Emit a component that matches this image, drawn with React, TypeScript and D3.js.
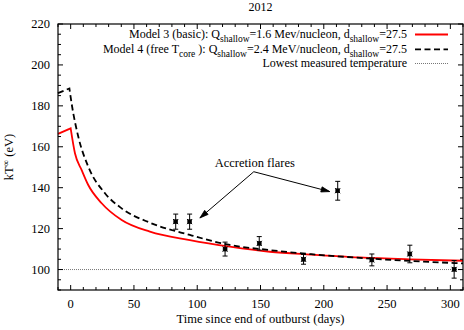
import React from 'react';
import * as d3 from 'd3';

// Model 3 (basic) cooling curve, red solid
const model3Days = [-10, 0, 3.4, 8.7, 13.9, 24.5, 40.3, 62.6, 94.2, 125.8, 157.4, 190, 228.4, 268, 310];
const model3Temp = [166.3, 169, 156.8, 148.6, 141.3, 132.4, 124.2, 118.5, 114.4, 111.2, 108.7, 107.3, 105.9, 105.0, 104.3];

// Model 4 (free T core) cooling curve, black dashed
const model4Days = [-10, -1, 0.8, 6, 13.9, 27.1, 40.3, 62.6, 94.2, 125.8, 157.4, 190, 228.4, 268, 310];
const model4Temp = [186.2, 188.5, 181, 165, 150.3, 137.3, 129.9, 122.9, 116.9, 112, 109.5, 107.5, 105.7, 104.2, 103.0];

// observations
const obsDays = [83, 94, 122, 149, 184, 211, 238, 268, 303];
const obsTemp = [123.4, 123.4, 110, 112.8, 105, 138.5, 104.7, 107.6, 100.1];
const obsErr = [3.7, 3.7, 3.4, 3.3, 2.4, 4.6, 2.9, 4.3, 4.3];

const lowestTemp = 100;

const xTicks = [0, 50, 100, 150, 200, 250, 300];
const yTicks = [100, 120, 140, 160, 180, 200, 220];

// legend texts, split in [text, isSubscript]
const legend3: [string, boolean][] = [['Model 3 (basic): Q', false], ['shallow', true], ['=1.6 Mev/nucleon, d', false], ['shallow', true], ['=27.5', false]];
const legend4: [string, boolean][] = [['Model 4 (free T', false], ['core', true], ['): Q', false], ['shallow', true], ['=2.4 MeV/nucleon, d', false], ['shallow', true], ['=27.5', false]];
const legendLow: [string, boolean][] = [['Lowest measured temperature', false]];

// annotation: label position and arrow targets (data coords)
const flareLabel = {day: 145.5, temp: 150.1, text: 'Accretion flares'};
const flareFrom = {day: 144.7, temp: 147.8};
const flareTargets = [{day: 102.1, temp: 125.2}, {day: 204.7, temp: 138.1}];

const W = 464, H = 330;
const font = '"Liberation Serif", "Times New Roman", serif';

export default function App() {
    const x = d3.scaleLinear().domain([-10, 310]).range([58, 463]);
    const y = d3.scaleLinear().domain([90, 220]).range([290, 24]);
    const [x0, x1] = x.range();
    const [y0, y1] = y.range();

    // rise is straight, decay is smooth
    const buildPath = (days: number[], temps: number[], peak: number) => {
        const pts: [number, number][] = days.map((d, i) => [x(d), y(temps[i])]);
        const rise = d3.line().curve(d3.curveLinear)(pts.slice(0, peak + 1)) || '';
        const decay = d3.line().curve(d3.curveMonotoneX)(pts.slice(peak)) || '';
        return rise + decay.replace(/^M/, 'L');
    };

    const minorX = d3.range(-10, 311, 10);
    const minorY = d3.range(90, 221, 5);

    const renderSegs = (segs: [string, boolean][]) => {
        let prevSub = false;
        return segs.map(([t, s], i) => {
            const dy = s ? 3.5 : (prevSub ? -3.5 : 0);
            // small gap after the "core" subscript, like gnuplot does
            const dx = prevSub && t.startsWith(')') ? 3 : 0;
            prevSub = s;
            return <tspan key={i} dx={dx} dy={dy} fontSize={s ? 9.5 : 12}>{t}</tspan>;
        });
    };

    const legendRows = [
        {y: 34.5, segs: legend3, stroke: '#ff0000', dash: undefined as string | undefined, width: 1.8},
        {y: 49.3, segs: legend4, stroke: '#000', dash: '6,3.5', width: 1.8},
        {y: 63.5, segs: legendLow, stroke: '#777', dash: '1,1', width: 1},
    ];

    const arrowHead = (fx: number, fy: number, tx: number, ty: number) => {
        const a = Math.atan2(ty - fy, tx - fx);
        const len = 9, spread = 0.3;
        const p1 = [tx - len * Math.cos(a - spread), ty - len * Math.sin(a - spread)];
        const p2 = [tx - len * Math.cos(a + spread), ty - len * Math.sin(a + spread)];
        return `M${p1[0]},${p1[1]}L${tx},${ty}L${p2[0]},${p2[1]}Z`;
    };

    return (
        <svg width={W} height={H} style={{position: 'absolute', left: 0, top: 0, background: '#fff'}}
             fontFamily={font}>
            <rect x={0} y={0} width={W} height={H} fill="#fff"/>
            <text x={(x0 + x1) / 2} y={11} textAnchor="middle" fontSize={12}>2012</text>

            {/* lowest temperature */}
            <line x1={x0} x2={x1} y1={y(lowestTemp)} y2={y(lowestTemp)} stroke="#777" strokeWidth={1}
                  strokeDasharray="1,1"/>

            {/* models */}
            <path d={buildPath(model3Days, model3Temp, 1)} fill="none" stroke="#ff0000" strokeWidth={1.8}/>
            <path d={buildPath(model4Days, model4Temp, 1)} fill="none" stroke="#000" strokeWidth={1.8}
                  strokeDasharray="6,3.5"/>

            {/* observations */}
            {obsDays.map((d, i) => {
                const cx = x(d), cy = y(obsTemp[i]);
                const top = y(obsTemp[i] + obsErr[i]), bot = y(obsTemp[i] - obsErr[i]);
                return (
                    <g key={i} stroke="#000" strokeWidth={1}>
                        <line x1={cx} x2={cx} y1={top} y2={bot}/>
                        <line x1={cx - 2.5} x2={cx + 2.5} y1={top} y2={top}/>
                        <line x1={cx - 2.5} x2={cx + 2.5} y1={bot} y2={bot}/>
                        <rect x={cx - 2} y={cy - 2} width={4} height={4} fill="#000" strokeWidth={0.5}/>
                        <line x1={cx - 2.5} x2={cx + 2.5} y1={cy - 2.5} y2={cy + 2.5}/>
                        <line x1={cx - 2.5} x2={cx + 2.5} y1={cy + 2.5} y2={cy - 2.5}/>
                    </g>
                );
            })}

            {/* annotation */}
            <text x={x(flareLabel.day)} y={y(flareLabel.temp)} textAnchor="middle" fontSize={12.5}>
                {flareLabel.text}
            </text>
            {flareTargets.map((t, i) => {
                const fx = x(flareFrom.day), fy = y(flareFrom.temp);
                const tx = x(t.day), ty = y(t.temp);
                return (
                    <g key={i}>
                        <line x1={fx} y1={fy} x2={tx} y2={ty} stroke="#000" strokeWidth={1}/>
                        <path d={arrowHead(fx, fy, tx, ty)} fill="#000" stroke="#000" strokeWidth={0.8}/>
                    </g>
                );
            })}

            {/* legend */}
            {legendRows.map((r, i) => (
                <g key={i}>
                    <text x={407} y={r.y + 3.8} textAnchor="end" fontSize={12}>{renderSegs(r.segs)}</text>
                    <line x1={415} x2={448} y1={r.y} y2={r.y} stroke={r.stroke} strokeWidth={r.width}
                          strokeDasharray={r.dash}/>
                </g>
            ))}

            {/* ticks, mirrored on all sides */}
            <g stroke="#000" strokeWidth={1}>
                {minorX.map(v => (
                    <g key={'mx' + v}>
                        <line x1={x(v)} x2={x(v)} y1={y0} y2={y0 - (v % 50 === 0 ? 5 : 3)}/>
                        <line x1={x(v)} x2={x(v)} y1={y1} y2={y1 + (v % 50 === 0 ? 5 : 3)}/>
                    </g>
                ))}
                {minorY.map(v => (
                    <g key={'my' + v}>
                        <line x1={x0} x2={x0 + (v % 20 === 0 ? 5 : 3)} y1={y(v)} y2={y(v)}/>
                        <line x1={x1} x2={x1 - (v % 20 === 0 ? 5 : 3)} y1={y(v)} y2={y(v)}/>
                    </g>
                ))}
            </g>

            <rect x={x0} y={y1} width={x1 - x0} height={y0 - y1} fill="none" stroke="#000" strokeWidth={1.2}/>

            {xTicks.map(v => (
                <text key={'xt' + v} x={x(v)} y={308} textAnchor="middle" fontSize={12.5}>{v}</text>
            ))}
            {yTicks.map(v => (
                <text key={'yt' + v} x={50} y={y(v) + 4} textAnchor="end" fontSize={12.5}>{v}</text>
            ))}

            <text x={(x0 + x1) / 2} y={323} textAnchor="middle" fontSize={12.5}>
                Time since end of outburst (days)
            </text>
            <text transform={`translate(13,${(y0 + y1) / 2}) rotate(-90)`} textAnchor="middle" fontSize={12.5}>
                kT<tspan dy={-4} fontSize={9}>∞</tspan><tspan dy={4}> (eV)</tspan>
            </text>
        </svg>
    );
}
